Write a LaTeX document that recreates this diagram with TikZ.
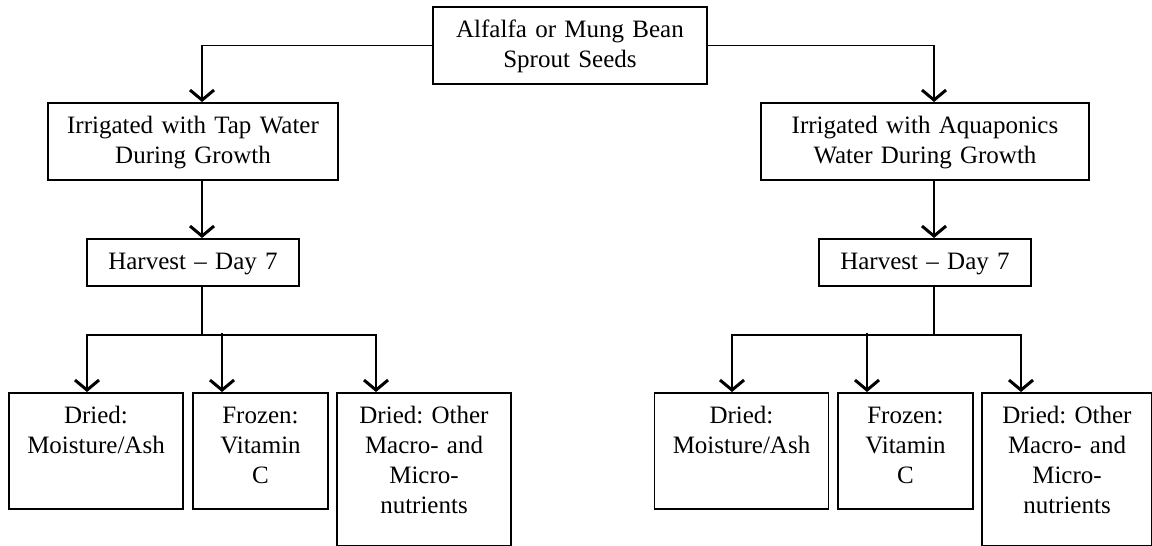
\documentclass[tikz,border=0pt]{standalone}
\usepackage{fontspec}
\setmainfont{Liberation Serif}
\frenchspacing
\usepackage{tikz}
\usetikzlibrary{
  positioning,
  arrows.meta
}
\tikzstyle{box}=[draw, line width=1.8pt, anchor=north, align=center, font=\fontsize{25}{30}\selectfont, inner xsep=4pt, inner ysep=11pt, text height=20pt]
\tikzstyle{link}=[line width=1.8pt]
\tikzstyle{conn}=[link, -{Straight Barb[length=10pt, width=24pt, line width=3pt]}]

\begin{document}
\begin{tikzpicture}[x=1pt, y=-1pt]
    \useasboundingbox (0,0) rectangle (1152,546);

    % 種子
    \node[box, text width=266pt] (seed) at (570,6) {Alfalfa or Mung Bean\\Sprout Seeds};

    % 灌漑
    \node[box, text width=282pt] (tapw) at (193,102) {Irrigated with Tap Water\\During Growth};
    \node[box, text width=320pt] (aqua) at (925,102) {Irrigated with Aquaponics\\Water During Growth};

    % 収穫
    \node[box, text width=204pt] (harvl) at (193,238) {Harvest -- Day 7};
    \node[box, text width=204pt] (harvr) at (925,238) {Harvest -- Day 7};

    % 分析 (左)
    \node[box, text width=166pt, text depth=74pt] (drya) at (96,392) {Dried:\\Moisture/Ash};
    \node[box, text width=127pt, text depth=74pt] (frza) at (260.5,392) {Frozen:\\Vitamin\\C};
    \node[box, text width=166pt, text depth=111pt] (othl) at (424,392) {Dried: Other\\Macro- and\\Micro-\\nutrients};

    % 分析 (右)
    \node[box, text width=166pt, text depth=74pt] (dryb) at (741.5,392) {Dried:\\Moisture/Ash};
    \node[box, text width=127pt, text depth=74pt] (frzb) at (905.5,392) {Frozen:\\Vitamin\\C};
    \node[box, text width=162pt, text depth=111pt] (othb) at (1067,392) {Dried: Other\\Macro- and\\Micro-\\nutrients};

    % 種子から灌漑へ
    \draw[conn] (seed.west) -| ([xshift=9pt]tapw.north);
    \draw[conn] (seed.east) -| ([xshift=9pt]aqua.north);

    % 灌漑から収穫へ
    \draw[conn] ([xshift=9pt]tapw.south) -- ([xshift=9pt]harvl.north);
    \draw[conn] ([xshift=9pt]aqua.south) -- ([xshift=9pt]harvr.north);

    % 収穫から分析へ (左)
    \draw[link] ([xshift=9pt]harvl.south) -- ++(0,48) coordinate (forkl);
    \draw[conn] (forkl) -| ([xshift=-9pt]drya.north);
    \draw[conn] (forkl) -| ([xshift=-48pt]othl.north);
    \draw[conn] ([xshift=-38.5pt, yshift=59pt]frza.north) -- ([xshift=-38.5pt]frza.north);

    % 収穫から分析へ (右)
    \draw[link] ([xshift=9pt]harvr.south) -- ++(0,48) coordinate (forkr);
    \draw[conn] (forkr) -| ([xshift=-9.5pt]dryb.north);
    \draw[conn] (forkr) -| ([xshift=-46pt]othb.north);
    \draw[conn] ([xshift=-38.5pt, yshift=59pt]frzb.north) -- ([xshift=-38.5pt]frzb.north);
\end{tikzpicture}
\end{document}
